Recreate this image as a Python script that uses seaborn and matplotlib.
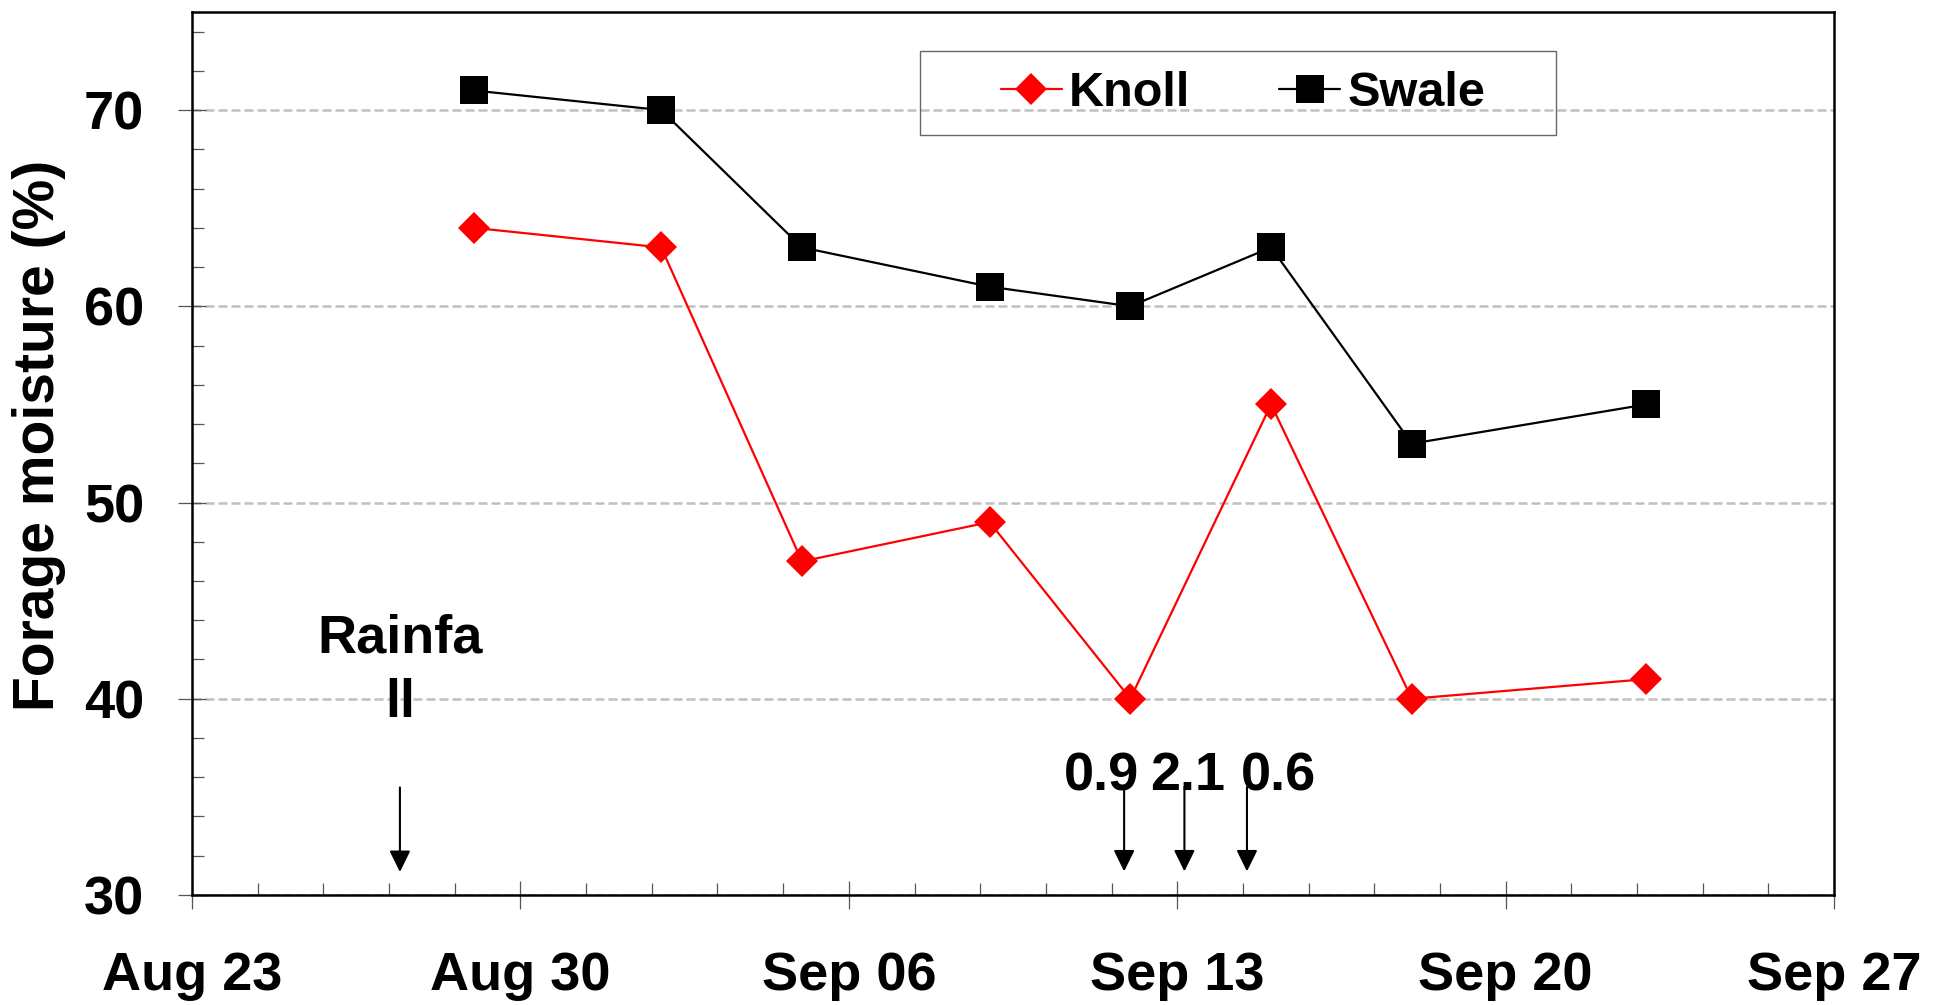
import numpy as np
import pandas as pd
import matplotlib
matplotlib.use("Agg")
import matplotlib.pyplot as plt
import matplotlib.dates as mdates
from matplotlib.patches import Rectangle
from matplotlib.ticker import MultipleLocator, FixedLocator
import seaborn as sns

# Sampling dates and forage moisture (%) at the two landscape positions
sample_dates = pd.to_datetime(["2008-08-29", "2008-09-02", "2008-09-05", "2008-09-09",
                               "2008-09-12", "2008-09-15", "2008-09-18", "2008-09-23"])
knoll_moisture = [64, 63, 47, 49, 40, 55, 40, 41]
swale_moisture = [71, 70, 63, 61, 60, 63, 53, 55]
series_names = ["Knoll", "Swale"]

# Rainfall events marked with arrows
rain_header = ["Rainfa", "ll"]
rain_header_time = pd.Timestamp("2008-08-27 10:20")
rain_times = pd.to_datetime(["2008-09-11 20:50", "2008-09-13 03:40", "2008-09-14 11:40"])
rain_amounts = ["0.9", "2.1", "0.6"]

# Axis extents and ticks
date_start, date_end = pd.Timestamp("2008-08-23"), pd.Timestamp("2008-09-27")
week_ticks = pd.date_range(date_start, date_end, freq="7D")
y_ticks = [30, 40, 50, 60, 70]

sns.set_style("white")
plt.rcParams["font.family"] = ["Liberation Sans", "DejaVu Sans"]
plt.rcParams["font.weight"] = "bold"
plt.rcParams["text.color"] = "black"
plt.rcParams["axes.labelcolor"] = "black"
plt.rcParams["xtick.color"] = "black"
plt.rcParams["ytick.color"] = "black"

fig = plt.figure(figsize=(19.42, 10.05), dpi=100)
ax = fig.add_axes([0.0989, 0.1095, 0.8455, 0.8786])

df = pd.DataFrame({"date": np.concatenate([sample_dates, sample_dates]),
                   "moisture": knoll_moisture + swale_moisture,
                   "site": [series_names[0]] * len(sample_dates) + [series_names[1]] * len(sample_dates)})

sns.lineplot(data=df[df.site == "Knoll"], x="date", y="moisture", color="#ff0000",
             marker="D", markersize=16.5, markeredgewidth=0, linewidth=1.6,
             label="Knoll", ax=ax, zorder=3)
sns.lineplot(data=df[df.site == "Swale"], x="date", y="moisture", color="black",
             marker="s", markersize=20, markeredgewidth=0, linewidth=1.6,
             label="Swale", ax=ax, zorder=3)

# Axes limits and ticks
ax.set_xlim(date_start, date_end)
ax.set_ylim(30, 75)
ax.set_xticks(week_ticks)
ax.xaxis.set_major_formatter(mdates.DateFormatter("%b %d"))
x0 = mdates.date2num(date_start)
ax.xaxis.set_minor_locator(FixedLocator(x0 + 1.4 * np.arange(0, 26)))
ax.set_yticks(y_ticks)
ax.yaxis.set_minor_locator(MultipleLocator(2))

ax.tick_params(which="major", direction="inout", length=20, width=0.9,
               color="#555555", labelcolor="black", labelsize=39)
ax.tick_params(axis="y", which="major", pad=24.5)
ax.tick_params(axis="x", which="major", pad=30)
ax.tick_params(which="minor", direction="in", length=8.6, width=0.9, color="#555555")
ax.tick_params(which="both", bottom=True, left=True, top=False, right=False)

for s in ax.spines.values():
    s.set_visible(True)
    s.set_color("black")
    s.set_linewidth(1.8)

ax.set_axisbelow(True)
ax.yaxis.grid(True, which="major", color="#c0c0c0", linestyle=(0, (3.6, 1.6)), linewidth=1.8)
ax.xaxis.grid(False)

ax.set_xlabel("")
ax.set_ylabel("Forage moisture (%)", fontsize=41, fontweight="bold", color="black")
ax.yaxis.set_label_coords(-0.0765, 0.52)

# Rainfall arrows
arrow_props = dict(arrowstyle="-|>,head_length=0.65,head_width=0.32", mutation_scale=20,
                   lw=1.5, color="black", shrinkA=0, shrinkB=0)
hx = mdates.date2num(rain_header_time)
ax.annotate("", xy=(hx, 31.17), xytext=(hx, 35.48), arrowprops=arrow_props)
ax.text(hx, 42.36, rain_header[0], ha="center", va="baseline", fontsize=39, fontweight="bold")
ax.text(hx, 39.05, rain_header[1], ha="center", va="baseline", fontsize=39, fontweight="bold")

label_shift = [-0.49, 0.06, 0.68]
for t, amount, dx in zip(rain_times, rain_amounts, label_shift):
    rx = mdates.date2num(t)
    ax.annotate("", xy=(rx, 31.2), xytext=(rx, 35.5), arrowprops=arrow_props)
    ax.text(rx + dx, 35.33, amount, ha="center", va="baseline", fontsize=39, fontweight="bold")

# Legend with a plain rectangular frame
ax.add_patch(Rectangle((0.4434, 0.8607), 0.3873, 0.0951, transform=ax.transAxes,
                       fill=False, edgecolor="#666666", linewidth=1.0, zorder=4))
ax.legend(loc="center", bbox_to_anchor=(0.640, 0.908), ncol=2, frameon=False,
          fontsize=35, handlelength=1.25, handletextpad=0.15, columnspacing=1.83,
          borderaxespad=0, labelcolor="black")

fig.savefig("out.png", dpi=100)
